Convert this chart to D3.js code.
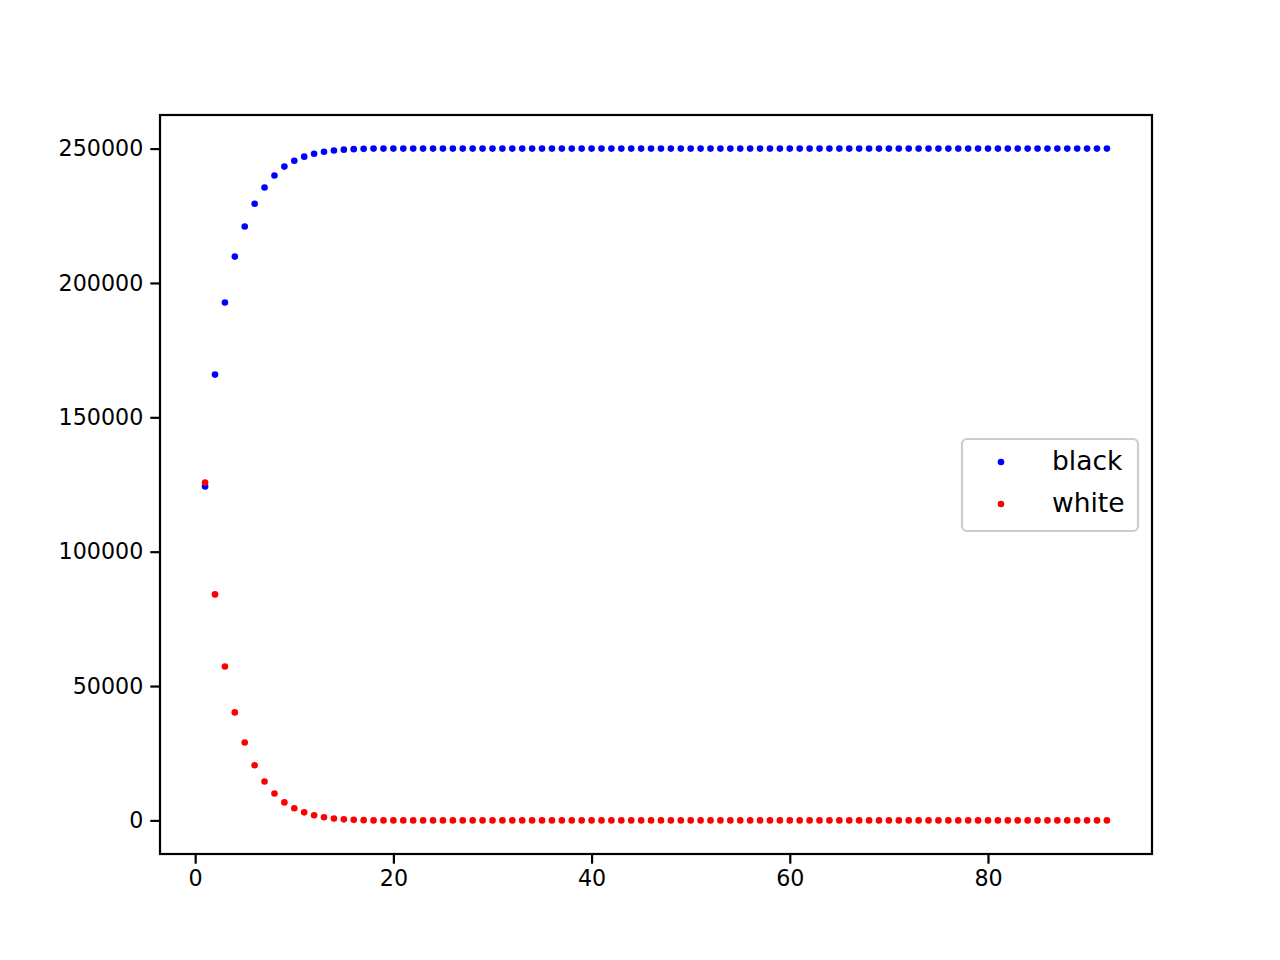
<!DOCTYPE html>
<html><head><meta charset="utf-8">
<script src="https://cdn.jsdelivr.net/npm/d3@7"></script>
<style>body{margin:0;background:#fff}svg{display:block}text{font-family:"DejaVu Sans";fill:#000}</style>
</head><body><svg id="c" width="1280" height="960"></svg>
<script>
const xTicks=[0,20,40,60,80];
const yTicks=[0,50000,100000,150000,200000,250000];
const seriesNames=["black","white"];
const seriesColors=["#0000ff","#ff0000"];
const blackValues=[124300,165900,192700,209800,221000,229500,235500,240000,243300,245500,247000,248100,248800,249300,249600,249800,249900,
250000,250000,250000,250000,250000,250000,250000,250000,250000,250000,250000,250000,250000,250000,250000,
250000,250000,250000,250000,250000,250000,250000,250000,250000,250000,250000,250000,250000,250000,250000,
250000,250000,250000,250000,250000,250000,250000,250000,250000,250000,250000,250000,250000,250000,250000,
250000,250000,250000,250000,250000,250000,250000,250000,250000,250000,250000,250000,250000,250000,250000,
250000,250000,250000,250000,250000,250000,250000,250000,250000,250000,250000,250000,250000,250000,250000];
const whiteValues=[125700,84100,57300,40200,29000,20500,14500,10000,6700,4500,3000,1900,1200,700,400,200,100,
0,0,0,0,0,0,0,0,0,0,0,0,0,0,0,
0,0,0,0,0,0,0,0,0,0,0,0,0,0,0,
0,0,0,0,0,0,0,0,0,0,0,0,0,0,0,
0,0,0,0,0,0,0,0,0,0,0,0,0,0,0,
0,0,0,0,0,0,0,0,0,0,0,0,0,0,0];
const series=[blackValues,whiteValues];

const L=160,R=1152,T=115,B=854;
const svg=d3.select("#c");
const x=d3.scaleLinear().domain([1-91*0.05,92+91*0.05]).range([L,R]);
const y=d3.scaleLinear().domain([-12500,262500]).range([B,T]);

const xa=svg.append("g").attr("transform",`translate(0,${B})`).call(d3.axisBottom(x).tickValues(xTicks).tickSize(9.7).tickPadding(7).tickFormat(d3.format("d")));
const ya=svg.append("g").attr("transform",`translate(${L},0)`).call(d3.axisLeft(y).tickValues(yTicks).tickSize(9.7).tickPadding(7).tickFormat(d3.format("d")));
[xa,ya].forEach(a=>{a.select(".domain").remove();a.selectAll("line").attr("stroke","#000").attr("stroke-width",2.2);a.selectAll("text").attr("font-size",22.2).attr("font-family","DejaVu Sans");});

series.forEach((vals,si)=>{
  svg.append("g").selectAll("circle").data(vals).join("circle")
    .attr("cx",(d,i)=>x(i+1)).attr("cy",d=>y(d)).attr("r",3.3).attr("fill",seriesColors[si]);
});
svg.append("rect").attr("x",L).attr("y",T).attr("width",R-L).attr("height",B-T).attr("fill","none").attr("stroke","#000").attr("stroke-width",2.2);

const lg=svg.append("g");
lg.append("rect").attr("x",962).attr("y",439).attr("width",176).attr("height",92).attr("rx",5).attr("fill","#fff").attr("fill-opacity",0.8).attr("stroke","#cccccc").attr("stroke-width",2.2);
seriesNames.forEach((n,i)=>{
  const yy=462+i*42;
  lg.append("circle").attr("cx",1001).attr("cy",yy).attr("r",3.3).attr("fill",seriesColors[i]);
  lg.append("text").attr("x",1052).attr("y",yy+8).attr("font-size",26.5).text(n);
});
</script></body></html>
